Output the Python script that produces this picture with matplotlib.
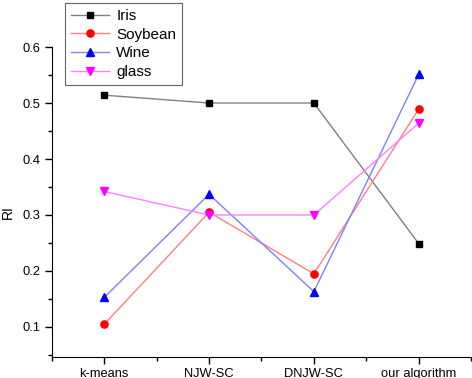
import matplotlib
matplotlib.use("Agg")
import matplotlib.pyplot as plt
from matplotlib.ticker import MultipleLocator

plt.rcParams['font.family'] = ['Liberation Sans', 'DejaVu Sans']

methods = ['k-means', 'NJW-SC', 'DNJW-SC', 'our algorithm']
iris = [0.514, 0.50, 0.50, 0.249]
soybean = [0.105, 0.305, 0.195, 0.489]
wine = [0.153, 0.337, 0.163, 0.551]
glass = [0.342, 0.30, 0.30, 0.464]

x = [1, 2, 3, 4]

fig = plt.figure(figsize=(4.72, 3.78), dpi=100)
ax = fig.add_axes([0.110, 0.0556, 0.888, 0.820])

# lighter lines, solid markers (Origin style)
series = [
    ('Iris', iris, '#808080', 'black', 's', 4.5),
    ('Soybean', soybean, '#ff8080', 'red', 'o', 5.2),
    ('Wine', wine, '#8080ff', 'blue', '^', 5.5),
    ('glass', glass, '#ff80ff', 'magenta', 'v', 5.5),
]
for name, vals, lc, mc, mk, ms in series:
    ax.plot(x, vals, color=lc, lw=1.0, marker=mk, markersize=ms,
            markerfacecolor=mc, markeredgecolor=mc, label=name)

ax.set_xlim(0.5, 4.5)
ax.set_ylim(0.0464, 0.6)
ax.set_xticks(x)
ax.set_xticklabels(methods)
ax.xaxis.set_minor_locator(MultipleLocator(0.5))
ax.yaxis.set_major_locator(MultipleLocator(0.1))
ax.yaxis.set_minor_locator(MultipleLocator(0.05))
ax.tick_params(which='both', direction='out', labelsize=9.3, width=1)
ax.tick_params(which='major', length=5)
ax.tick_params(which='minor', length=3)
ax.tick_params(axis='x', pad=3)
ax.spines['top'].set_visible(False)
ax.spines['right'].set_visible(False)
ax.set_ylabel('RI', fontsize=10)
ax.yaxis.set_label_coords(-0.088, 0.468)

leg = fig.legend(loc='upper left', bbox_to_anchor=(65 / 472, 1 - 3 / 378),
                 borderaxespad=0, fontsize=11, frameon=True, fancybox=False,
                 edgecolor='#404040', handlelength=2.5, borderpad=0.4,
                 labelspacing=0.3, handletextpad=0.45)
leg.get_frame().set_linewidth(0.8)

fig.savefig('out.png', dpi=100)
